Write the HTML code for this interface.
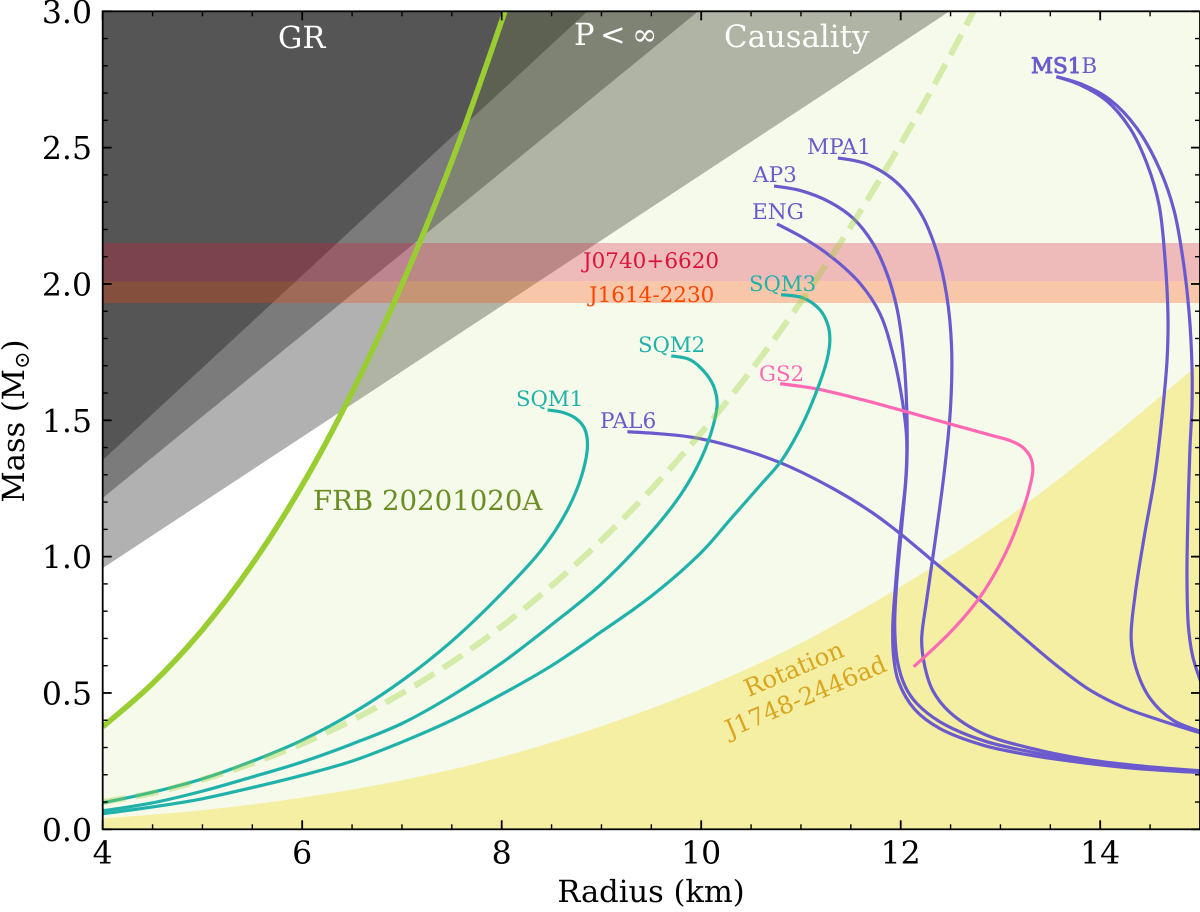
<!DOCTYPE html>
<html lang="en">
<head>
<meta charset="utf-8">
<title>Mass-Radius diagram</title>
<style>
html,body{margin:0;padding:0;background:#fff;}
svg{display:block;font-family:"DejaVu Serif","Liberation Serif",serif;text-rendering:geometricPrecision;}
</style>
</head>
<body>
<svg id="chart" xmlns="http://www.w3.org/2000/svg" width="1200" height="912" viewBox="0 0 1200 912">
  <defs>
    <clipPath id="plot-clip"><rect x="102.7" y="11.3" width="1097.3" height="818"/></clipPath>
  </defs>
  <g id="regions" clip-path="url(#plot-clip)"></g>
  <g id="curves" clip-path="url(#plot-clip)"></g>
  <g id="axes"></g>
  <g id="labels" font-size="21">
    <text x="278" y="48" font-size="30.5" fill="#fff">GR</text>
    <g font-size="30.5" fill="#fff">
      <text x="574" y="45">P</text>
      <text x="600" y="45">&lt;</text>
      <text x="632" y="45">∞</text>
    </g>
    <text x="724" y="47" font-size="30.8" fill="#fff">Causality</text>
    <text x="313" y="510" font-size="27.6" fill="#6B8E23">FRB 20201020A</text>
    <text x="583" y="268" font-size="21.5" fill="#DC143C">J0740+6620</text>
    <text x="589" y="302" font-size="21.5" fill="#FF4500">J1614-2230</text>
    <text x="516" y="406" font-size="21.2" fill="#20B2AA">SQM1</text>
    <text x="638" y="352" font-size="21.2" fill="#20B2AA">SQM2</text>
    <text x="749" y="291" font-size="21.2" fill="#20B2AA">SQM3</text>
    <text x="600" y="428" font-size="21.6" fill="#6A5ACD">PAL6</text>
    <text x="759" y="381" font-size="21.3" fill="#FF69B4">GS2</text>
    <text x="807" y="154" font-size="21.6" fill="#6A5ACD">MPA1</text>
    <text x="753" y="182" font-size="21.6" fill="#6A5ACD">AP3</text>
    <text x="752" y="219" font-size="21.6" fill="#6A5ACD">ENG</text>
    <text x="1031" y="73" font-size="21.5" fill="#6A5ACD" stroke="#6A5ACD" stroke-width="0.9">MS1</text>
    <text x="1031" y="73" font-size="21.5" fill="#6A5ACD">MS1B</text>
    <g transform="translate(799.5 682) rotate(-23)" font-size="24.4" fill="#DAA520" text-anchor="middle">
      <text x="0" y="-6">Rotation</text>
      <text x="0" y="24">J1748-2446ad</text>
    </g>
  </g>
  <text x="651" y="902" font-size="30.5" text-anchor="middle" fill="#000">Radius (km)</text>
  <text transform="translate(24 421) rotate(-90)" font-size="30.5" text-anchor="middle" fill="#000">Mass (M<tspan font-size="21" dy="5">⊙</tspan><tspan dy="-5">)</tspan></text>
</svg>
<script>
// Axis ticks
const xMajorTicks = [4, 6, 8, 10, 12, 14];
const xMinorTicks = [4.5, 5, 5.5, 6.5, 7, 7.5, 8.5, 9, 9.5, 10.5, 11, 11.5, 12.5, 13, 13.5, 14.5];
const yMajorTicks = [0, 0.5, 1, 1.5, 2, 2.5, 3];
const yMinorTicks = [0.1, 0.2, 0.3, 0.4, 0.6, 0.7, 0.8, 0.9, 1.1, 1.2, 1.3, 1.4, 1.6, 1.7, 1.8, 1.9, 2.1, 2.2, 2.3, 2.4, 2.6, 2.7, 2.8, 2.9];
const xTickLabels = ['4', '6', '8', '10', '12', '14'];
const yTickLabels = ['0.0', '0.5', '1.0', '1.5', '2.0', '2.5', '3.0'];

// Constraint lines (radius km, mass Msun)
const grR = [4, 8.86];
const grM = [1.354, 3];
const pInfR = [4, 9.97];
const pInfM = [1.215, 3];
const causalityR = [4, 12.49];
const causalityM = [0.958, 3];
const rotationR = [4, 5, 6, 7, 8, 9, 10, 11, 12, 13, 14, 15];
const rotationM = [0.04, 0.07, 0.116, 0.18, 0.265, 0.378, 0.515, 0.683, 0.89, 1.125, 1.405, 1.71];
const frbR = [4, 4.5, 5, 5.5, 6, 6.5, 7, 7.5, 8, 8.05];
const frbM = [0.376, 0.535, 0.732, 0.973, 1.262, 1.603, 1.998, 2.45, 2.965, 3.02];
const frbDashR = [4, 4.5, 5, 5.5, 6, 6.5, 7, 7.5, 8, 8.5, 9, 9.5, 10, 10.5, 11, 11.5, 12, 12.5, 12.8];
const frbDashM = [0.1, 0.133, 0.182, 0.242, 0.314, 0.4, 0.499, 0.613, 0.744, 0.893, 1.06, 1.247, 1.454, 1.683, 1.935, 2.211, 2.513, 2.84, 3.05];
const j0740Range = [2.01, 2.15];
const j1614Range = [1.93, 2.01];

// EOS curves
const sqm1R = [4, 4.5, 5, 5.5, 6, 6.5, 7, 7.5, 8, 8.4, 8.65, 8.8, 8.86, 8.83, 8.75, 8.62, 8.46];
const sqm1M = [0.097, 0.136, 0.185, 0.25, 0.327, 0.425, 0.545, 0.69, 0.865, 1.025, 1.165, 1.295, 1.41, 1.47, 1.505, 1.528, 1.538];
const sqm2R = [4, 4.5, 5, 5.5, 6, 6.5, 7, 7.5, 8, 8.5, 9, 9.5, 9.8, 10, 10.12, 10.16, 10.13, 10.05, 9.89, 9.7];
const sqm2M = [0.068, 0.097, 0.14, 0.192, 0.247, 0.313, 0.388, 0.49, 0.61, 0.75, 0.9, 1.09, 1.23, 1.36, 1.48, 1.56, 1.62, 1.67, 1.722, 1.736];
const sqm3R = [4, 4.5, 5, 5.5, 6, 6.5, 7, 7.5, 8, 8.5, 9, 9.5, 10, 10.3, 10.6, 10.8, 11, 11.15, 11.26, 11.29, 11.27, 11.19, 11.02, 10.8];
const sqm3M = [0.057, 0.082, 0.112, 0.153, 0.198, 0.25, 0.32, 0.4, 0.495, 0.6, 0.725, 0.855, 1.015, 1.14, 1.265, 1.35, 1.475, 1.6, 1.72, 1.795, 1.85, 1.905, 1.949, 1.96];
const pal6R = [9.26, 9.6, 9.92, 10.32, 10.79, 11.32, 11.72, 12.01, 12.31, 12.77, 13.4, 13.6, 13.9, 14.25, 14.6, 15];
const pal6M = [1.458, 1.45, 1.437, 1.403, 1.345, 1.25, 1.16, 1.08, 0.988, 0.849, 0.65, 0.59, 0.51, 0.445, 0.4, 0.354];
const gs2R = [10.79, 11.16, 11.62, 12.06, 12.49, 12.9, 13.1, 13.22, 13.3, 13.325, 13.29, 13.19, 13.06, 12.89, 12.73, 12.49, 12.13];
const gs2M = [1.634, 1.615, 1.575, 1.531, 1.487, 1.446, 1.425, 1.402, 1.365, 1.32, 1.25, 1.135, 1.02, 0.905, 0.82, 0.72, 0.596];
const mpa1R = [11.37, 11.66, 11.95, 12.2, 12.36, 12.46, 12.51, 12.5, 12.44, 12.35, 12.26, 12.21, 12.24, 12.32, 12.49, 12.83, 13.33, 13.83, 14.33, 15];
const mpa1M = [2.462, 2.44, 2.375, 2.26, 2.12, 1.96, 1.77, 1.55, 1.32, 1.07, 0.84, 0.695, 0.6, 0.51, 0.43, 0.35, 0.295, 0.258, 0.235, 0.215];
const ap3R = [10.73, 11, 11.29, 11.52, 11.72, 11.86, 11.96, 12.02, 12.06, 12.06, 12.01, 11.96, 11.94, 11.97, 12.05, 12.16, 12.39, 12.83, 13.33, 13.83, 14.33, 15];
const ap3M = [2.359, 2.342, 2.3, 2.242, 2.15, 2.04, 1.915, 1.77, 1.55, 1.33, 1.109, 0.904, 0.743, 0.611, 0.52, 0.462, 0.395, 0.325, 0.282, 0.25, 0.228, 0.212];
const engR = [10.76, 11.06, 11.32, 11.59, 11.79, 11.92, 12.02, 12.06, 12.05, 12, 11.95, 11.92, 11.93, 11.98, 12.14, 12.39, 12.83, 13.33, 13.83, 14.33, 15];
const engM = [2.22, 2.161, 2.095, 2.003, 1.893, 1.746, 1.563, 1.43, 1.28, 1.109, 0.904, 0.74, 0.63, 0.54, 0.44, 0.37, 0.308, 0.27, 0.244, 0.224, 0.208];
const ms1R = [13.56, 13.8, 14.07, 14.3, 14.47, 14.59, 14.65, 14.68, 14.67, 14.63, 14.55, 14.44, 14.35, 14.31, 14.36, 14.5, 14.73, 15];
const ms1M = [2.76, 2.73, 2.67, 2.57, 2.44, 2.29, 2.09, 1.87, 1.72, 1.55, 1.3, 1.07, 0.86, 0.7, 0.59, 0.48, 0.4, 0.36];
const ms1bR = [13.56, 13.83, 14.1, 14.37, 14.6, 14.74, 14.83, 14.89, 14.92, 14.92, 14.9, 14.88, 14.87, 14.885, 14.93, 15.02];
const ms1bM = [2.76, 2.73, 2.675, 2.57, 2.418, 2.27, 2.09, 1.9, 1.7, 1.55, 1.4, 1.16, 0.92, 0.74, 0.63, 0.53];

const SVG_NS = 'http://www.w3.org/2000/svg';
const X0 = 102.7, XS = 99.75, Y0 = 829.3, YS = 272.67;
function sx(r) { return X0 + (r - 4) * XS; }
function sy(m) { return Y0 - m * YS; }
function pts(rs, ms) { return rs.map(function (r, i) { return [sx(r), sy(ms[i])]; }); }
function dist(a, b) { return Math.pow(Math.hypot(a[0] - b[0], a[1] - b[1]), 0.5); }
function smoothPath(p) {
  let d = 'M' + p[0][0].toFixed(2) + ' ' + p[0][1].toFixed(2);
  for (let i = 0; i < p.length - 1; i++) {
    const p0 = p[Math.max(0, i - 1)], p1 = p[i], p2 = p[i + 1], p3 = p[Math.min(p.length - 1, i + 2)];
    const d1 = dist(p0, p1), d2 = dist(p1, p2), d3 = dist(p2, p3);
    const c1 = [p1[0], p1[1]], c2 = [p2[0], p2[1]];
    if (d1 > 0) {
      const k = 2 * d1 * d1 + 3 * d1 * d2 + d2 * d2, n = 3 * d1 * (d1 + d2);
      c1[0] = (d1 * d1 * p2[0] - d2 * d2 * p0[0] + k * p1[0]) / n;
      c1[1] = (d1 * d1 * p2[1] - d2 * d2 * p0[1] + k * p1[1]) / n;
    }
    if (d3 > 0) {
      const k = 2 * d3 * d3 + 3 * d3 * d2 + d2 * d2, n = 3 * d3 * (d3 + d2);
      c2[0] = (d3 * d3 * p1[0] - d2 * d2 * p3[0] + k * p2[0]) / n;
      c2[1] = (d3 * d3 * p1[1] - d2 * d2 * p3[1] + k * p2[1]) / n;
    }
    d += 'C' + c1[0].toFixed(2) + ' ' + c1[1].toFixed(2) + ' ' + c2[0].toFixed(2) + ' ' + c2[1].toFixed(2) + ' ' + p2[0].toFixed(2) + ' ' + p2[1].toFixed(2);
  }
  return d;
}
function addPath(parent, name, d, fill, stroke, width, extra) {
  const el = document.createElementNS(SVG_NS, 'path');
  
  
  el.setAttribute('d', d);
  el.setAttribute('fill', fill);
  el.setAttribute('stroke', stroke);
  el.setAttribute('stroke-width', width);
  if (extra) { Object.keys(extra).forEach(function (k) { el.setAttribute(k, extra[k]); }); }
  parent.appendChild(el);
  return el;
}
const regions = document.getElementById('regions');
const curves = document.getElementById('curves');
const axes = document.getElementById('axes');

// Excluded wedges
function wedge(name, rs, ms) {
  const d = 'M' + sx(rs[0]) + ' ' + sy(ms[0]) + 'L' + sx(rs[1]) + ' ' + sy(ms[1]) + 'L' + sx(rs[0]) + ' ' + sy(ms[1]) + 'Z';
  addPath(regions, name, d, '#000', 'none', 0, { 'fill-opacity': '0.305' });
}
wedge('causality-region', causalityR, causalityM);
wedge('p-infinity-region', pInfR, pInfM);
wedge('gr-region', grR, grM);

// Region under FRB (right of its curve), tinting the wedges
addPath(regions, 'frb-allowed-region',
  smoothPath(pts(frbR, frbM)) + 'L1200 ' + sy(frbM[frbM.length - 1]) + 'L1200 ' + Y0 + 'L' + sx(frbR[0]) + ' ' + Y0 + 'Z',
  '#9ACD32', 'none', 0, { 'fill-opacity': '0.1' });

// Rotation region
addPath(regions, 'rotation-region',
  smoothPath(pts(rotationR, rotationM)) + 'L' + sx(rotationR[rotationR.length - 1]) + ' ' + Y0 + 'L' + sx(rotationR[0]) + ' ' + Y0 + 'Z',
  '#F5EFA3', 'none', 0);

// Pulsar mass bands
function band(name, range, color) {
  const d = 'M' + X0 + ' ' + sy(range[0]) + 'H1200V' + sy(range[1]) + 'H' + X0 + 'Z';
  addPath(regions, name, d, color, 'none', 0, { 'fill-opacity': '0.28' });
}
band('j0740-band', j0740Range, '#DC143C');
band('j1614-band', j1614Range, '#FF4500');

// EOS lines
function curve(name, rs, ms, color) {
  addPath(curves, name, smoothPath(pts(rs, ms)), 'none', color, 3.2, { 'stroke-linecap': 'butt' });
}
curve('curve-ms1', ms1R, ms1M, '#6A5ACD');
curve('curve-ms1b', ms1bR, ms1bM, '#6A5ACD');
curve('curve-mpa1', mpa1R, mpa1M, '#6A5ACD');
curve('curve-ap3', ap3R, ap3M, '#6A5ACD');
curve('curve-eng', engR, engM, '#6A5ACD');
curve('curve-pal6', pal6R, pal6M, '#6A5ACD');
curve('curve-gs2', gs2R, gs2M, '#FF69B4');
curve('curve-sqm1', sqm1R, sqm1M, '#20B2AA');
curve('curve-sqm2', sqm2R, sqm2M, '#20B2AA');
curve('curve-sqm3', sqm3R, sqm3M, '#20B2AA');

// FRB lines
addPath(curves, 'frb-dashed-curve', smoothPath(pts(frbDashR, frbDashM)), 'none', '#9ACD32', 6,
  { 'stroke-opacity': '0.35', 'stroke-dasharray': '23 10.5' });
addPath(curves, 'frb-solid-curve', smoothPath(pts(frbR, frbM)), 'none', '#9ACD32', 5.5);

// Spines
const frame = document.createElementNS(SVG_NS, 'rect');


frame.setAttribute('x', X0);
frame.setAttribute('y', 11.3);
frame.setAttribute('width', 1200 - X0);
frame.setAttribute('height', Y0 - 11.3);
frame.setAttribute('fill', 'none');
frame.setAttribute('stroke', '#000');
frame.setAttribute('stroke-width', '1.8');
axes.appendChild(frame);

// Ticks
function tick(name, x1, y1, x2, y2, w) {
  const el = document.createElementNS(SVG_NS, 'line');
  
  
  el.setAttribute('x1', x1);
  el.setAttribute('y1', y1);
  el.setAttribute('x2', x2);
  el.setAttribute('y2', y2);
  el.setAttribute('stroke', '#000');
  el.setAttribute('stroke-width', w);
  axes.appendChild(el);
}
xMajorTicks.forEach(function (v) {
  tick('x-major-tick', sx(v), Y0, sx(v), Y0 - 9, 1.8);
  tick('x-major-tick-top', sx(v), 11.3, sx(v), 20.3, 1.8);
});
xMinorTicks.forEach(function (v) {
  tick('x-minor-tick', sx(v), Y0, sx(v), Y0 - 5, 1.4);
  tick('x-minor-tick-top', sx(v), 11.3, sx(v), 16.3, 1.4);
});
yMajorTicks.forEach(function (v) {
  tick('y-major-tick', X0, sy(v), X0 + 9, sy(v), 1.8);
  tick('y-major-tick-right', 1200, sy(v), 1191, sy(v), 1.8);
});
yMinorTicks.forEach(function (v) {
  tick('y-minor-tick', X0, sy(v), X0 + 5, sy(v), 1.4);
  tick('y-minor-tick-right', 1200, sy(v), 1195, sy(v), 1.4);
});

// Tick labels
function label(name, x, y, text, anchor) {
  const el = document.createElementNS(SVG_NS, 'text');
  
  
  el.setAttribute('x', x);
  el.setAttribute('y', y);
  el.setAttribute('font-size', '31.5');
  el.setAttribute('text-anchor', anchor);
  el.setAttribute('fill', '#000');
  el.textContent = text;
  axes.appendChild(el);
}
xMajorTicks.forEach(function (v, i) {
  label('x-tick-label', sx(v), 863.5, xTickLabels[i], 'middle');
});
yMajorTicks.forEach(function (v, i) {
  label('y-tick-label', 92, sy(v) + 11.5, yTickLabels[i], 'end');
});
</script>
</body>
</html>
